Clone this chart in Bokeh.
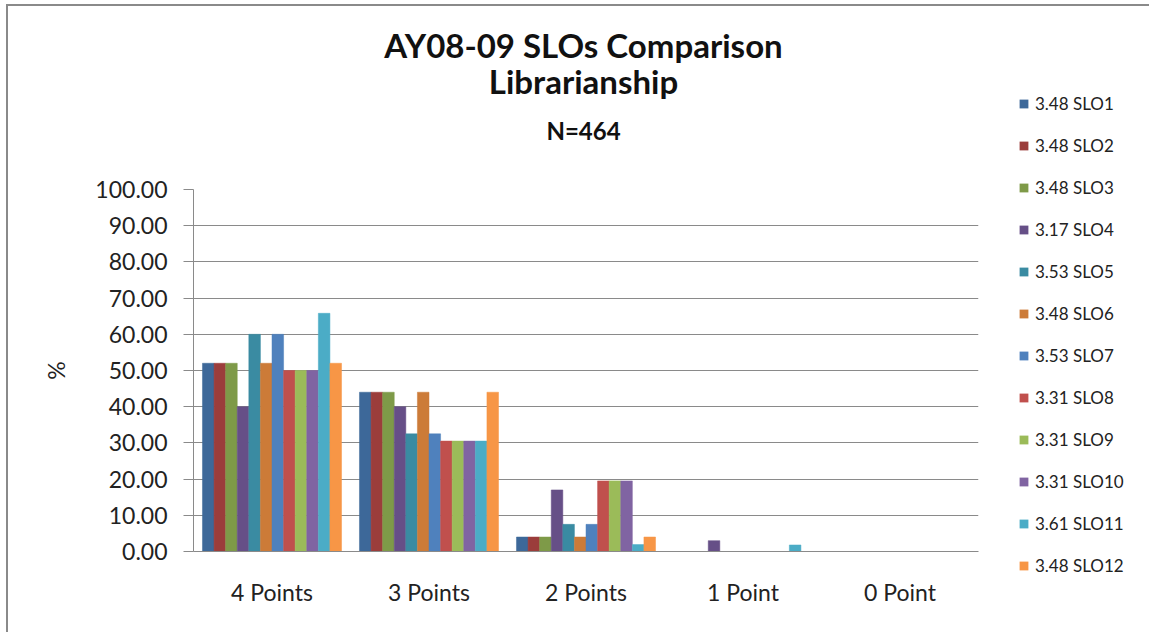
from bokeh.plotting import figure
from bokeh.layouts import row, column
from bokeh.models import (ColumnDataSource, FactorRange, Range1d, FixedTicker,
                          NumeralTickFormatter, Label, Legend)
from bokeh.transform import dodge
from bokeh.embed import file_html
from bokeh.resources import INLINE

categories = ["4 Points", "3 Points", "2 Points", "1 Point", "0 Point"]
series_names = ["3.48 SLO1", "3.48 SLO2", "3.48 SLO3", "3.17 SLO4", "3.53 SLO5", "3.48 SLO6",
                "3.53 SLO7", "3.31 SLO8", "3.31 SLO9", "3.31 SLO10", "3.61 SLO11", "3.48 SLO12"]
slo1 = [52.0, 44.0, 4.0, 0.0, 0.0]
slo2 = [52.0, 44.0, 4.0, 0.0, 0.0]
slo3 = [52.0, 44.0, 4.0, 0.0, 0.0]
slo4 = [40.0, 40.0, 17.0, 3.0, 0.0]
slo5 = [60.0, 32.5, 7.5, 0.0, 0.0]
slo6 = [52.0, 44.0, 4.0, 0.0, 0.0]
slo7 = [60.0, 32.5, 7.5, 0.0, 0.0]
slo8 = [50.0, 30.5, 19.5, 0.0, 0.0]
slo9 = [50.0, 30.5, 19.5, 0.0, 0.0]
slo10 = [50.0, 30.5, 19.5, 0.0, 0.0]
slo11 = [65.8, 30.5, 1.9, 1.8, 0.0]
slo12 = [52.0, 44.0, 4.0, 0.0, 0.0]
y_ticks = [0, 10, 20, 30, 40, 50, 60, 70, 80, 90, 100]
title_lines = ["AY08-09 SLOs Comparison", "Librarianship", "N=464"]

series_values = [slo1, slo2, slo3, slo4, slo5, slo6, slo7, slo8, slo9, slo10, slo11, slo12]
colors = ["#3D6899", "#9B3D3B", "#7E9A48", "#664F87", "#3A8BA2", "#CC7B38",
          "#4F81BD", "#C0504D", "#9BBB59", "#8064A2", "#4BACC6", "#F79646"]

FONT = "Lato"
TXT = "#222222"


def bare(fig):
    fig.outline_line_color = None
    fig.xgrid.grid_line_color = None
    fig.ygrid.grid_line_color = None
    fig.border_fill_color = "white"
    fig.background_fill_color = "white"


data = {"cat": categories}
for i, vals in enumerate(series_values):
    data[f"s{i+1}"] = vals
source = ColumnDataSource(data)
n = len(series_values)

# ---------------- title strip ----------------
TW, TH = 1000, 150
tfig = figure(width=TW, height=TH, output_backend="svg", toolbar_location=None, title=None,
              x_range=Range1d(0, 1), y_range=Range1d(0, 1),
              x_axis_type=None, y_axis_type=None, min_border=0)
bare(tfig)
for txt, y, size in [(title_lines[0], 112, "33px"),
                     (title_lines[1], 76, "33px"),
                     (title_lines[2], 26, "24px")]:
    tfig.add_layout(Label(x=390, y=y, x_units="screen", y_units="screen", text=txt,
                          text_align="center", text_baseline="alphabetic",
                          text_font=FONT, text_font_size=size, text_font_style="bold",
                          text_color="#111111"))

# ---------------- main chart ----------------
p = figure(width=1000, height=476, output_backend="svg", toolbar_location=None, title=None,
           x_range=FactorRange(*categories, range_padding=0),
           y_range=Range1d(0, 100),
           min_border_left=185, min_border_right=30, min_border_top=33, min_border_bottom=81)

bw = 0.0738
for i in range(n):
    off = (i - (n - 1) / 2) * bw
    p.vbar(x=dodge("cat", off, range=p.x_range), top=f"s{i+1}", width=bw, source=source,
           fill_color=colors[i], line_color=colors[i], line_width=0.5)

p.outline_line_color = None
p.background_fill_color = "white"
p.border_fill_color = "white"
p.xgrid.grid_line_color = None
p.ygrid.grid_line_color = "#8a8a8a"
p.ygrid.grid_line_width = 1

p.yaxis.ticker = FixedTicker(ticks=y_ticks)
p.yaxis.formatter = NumeralTickFormatter(format="0.00")
p.yaxis.axis_line_color = "#8a8a8a"
p.yaxis.major_tick_line_color = "#8a8a8a"
p.yaxis.major_tick_out = 10
p.yaxis.major_tick_in = 0
p.yaxis.minor_tick_line_color = None
p.yaxis.major_label_standoff = 16
p.yaxis.major_label_text_font = FONT
p.yaxis.major_label_text_font_size = "23px"
p.yaxis.major_label_text_color = TXT
p.yaxis.axis_label = "%"
p.yaxis.axis_label_text_font = FONT
p.yaxis.axis_label_text_font_size = "23px"
p.yaxis.axis_label_text_font_style = "normal"
p.yaxis.axis_label_text_color = TXT
p.yaxis.axis_label_standoff = 22

p.xaxis.axis_line_color = "#8a8a8a"
p.xaxis.major_tick_line_color = None
p.xaxis.minor_tick_line_color = None
p.xaxis.major_label_standoff = 20
p.xaxis.major_label_text_font = FONT
p.xaxis.major_label_text_font_size = "23px"
p.xaxis.major_label_text_color = TXT

# ---------------- legend panel ----------------
# legend proxies: same series with zero width, so only the legend swatches show
LW, LH = 141, 626
lfig = figure(width=LW, height=LH, output_backend="svg", toolbar_location=None, title=None,
              x_range=FactorRange(*categories), y_range=Range1d(-2, -1),
              x_axis_type=None, y_axis_type=None, min_border=0)
bare(lfig)
items = []
for i in range(n):
    r = lfig.vbar(x="cat", top=f"s{i+1}", width=0, source=source,
                  fill_color=colors[i], line_color=None)
    items.append((series_names[i], [r]))
legend = Legend(items=items, location=(10, 56))
legend.glyph_width = 11
legend.glyph_height = 11
legend.label_height = 20
legend.spacing = 21
legend.label_standoff = 6
legend.padding = 0
legend.margin = 0
legend.border_line_color = None
legend.background_fill_alpha = 0
legend.label_text_font = FONT
legend.label_text_font_size = "17px"
legend.label_text_color = TXT
lfig.add_layout(legend, "center")

layout = row(column(tfig, p, spacing=0), lfig, spacing=0)
layout.styles = {"margin-left": "6px", "margin-top": "4px",
                 "border-left": "2px solid #8a8a8a", "border-top": "2px solid #8a8a8a"}

open("out.html", "w").write(file_html(layout, INLINE))
